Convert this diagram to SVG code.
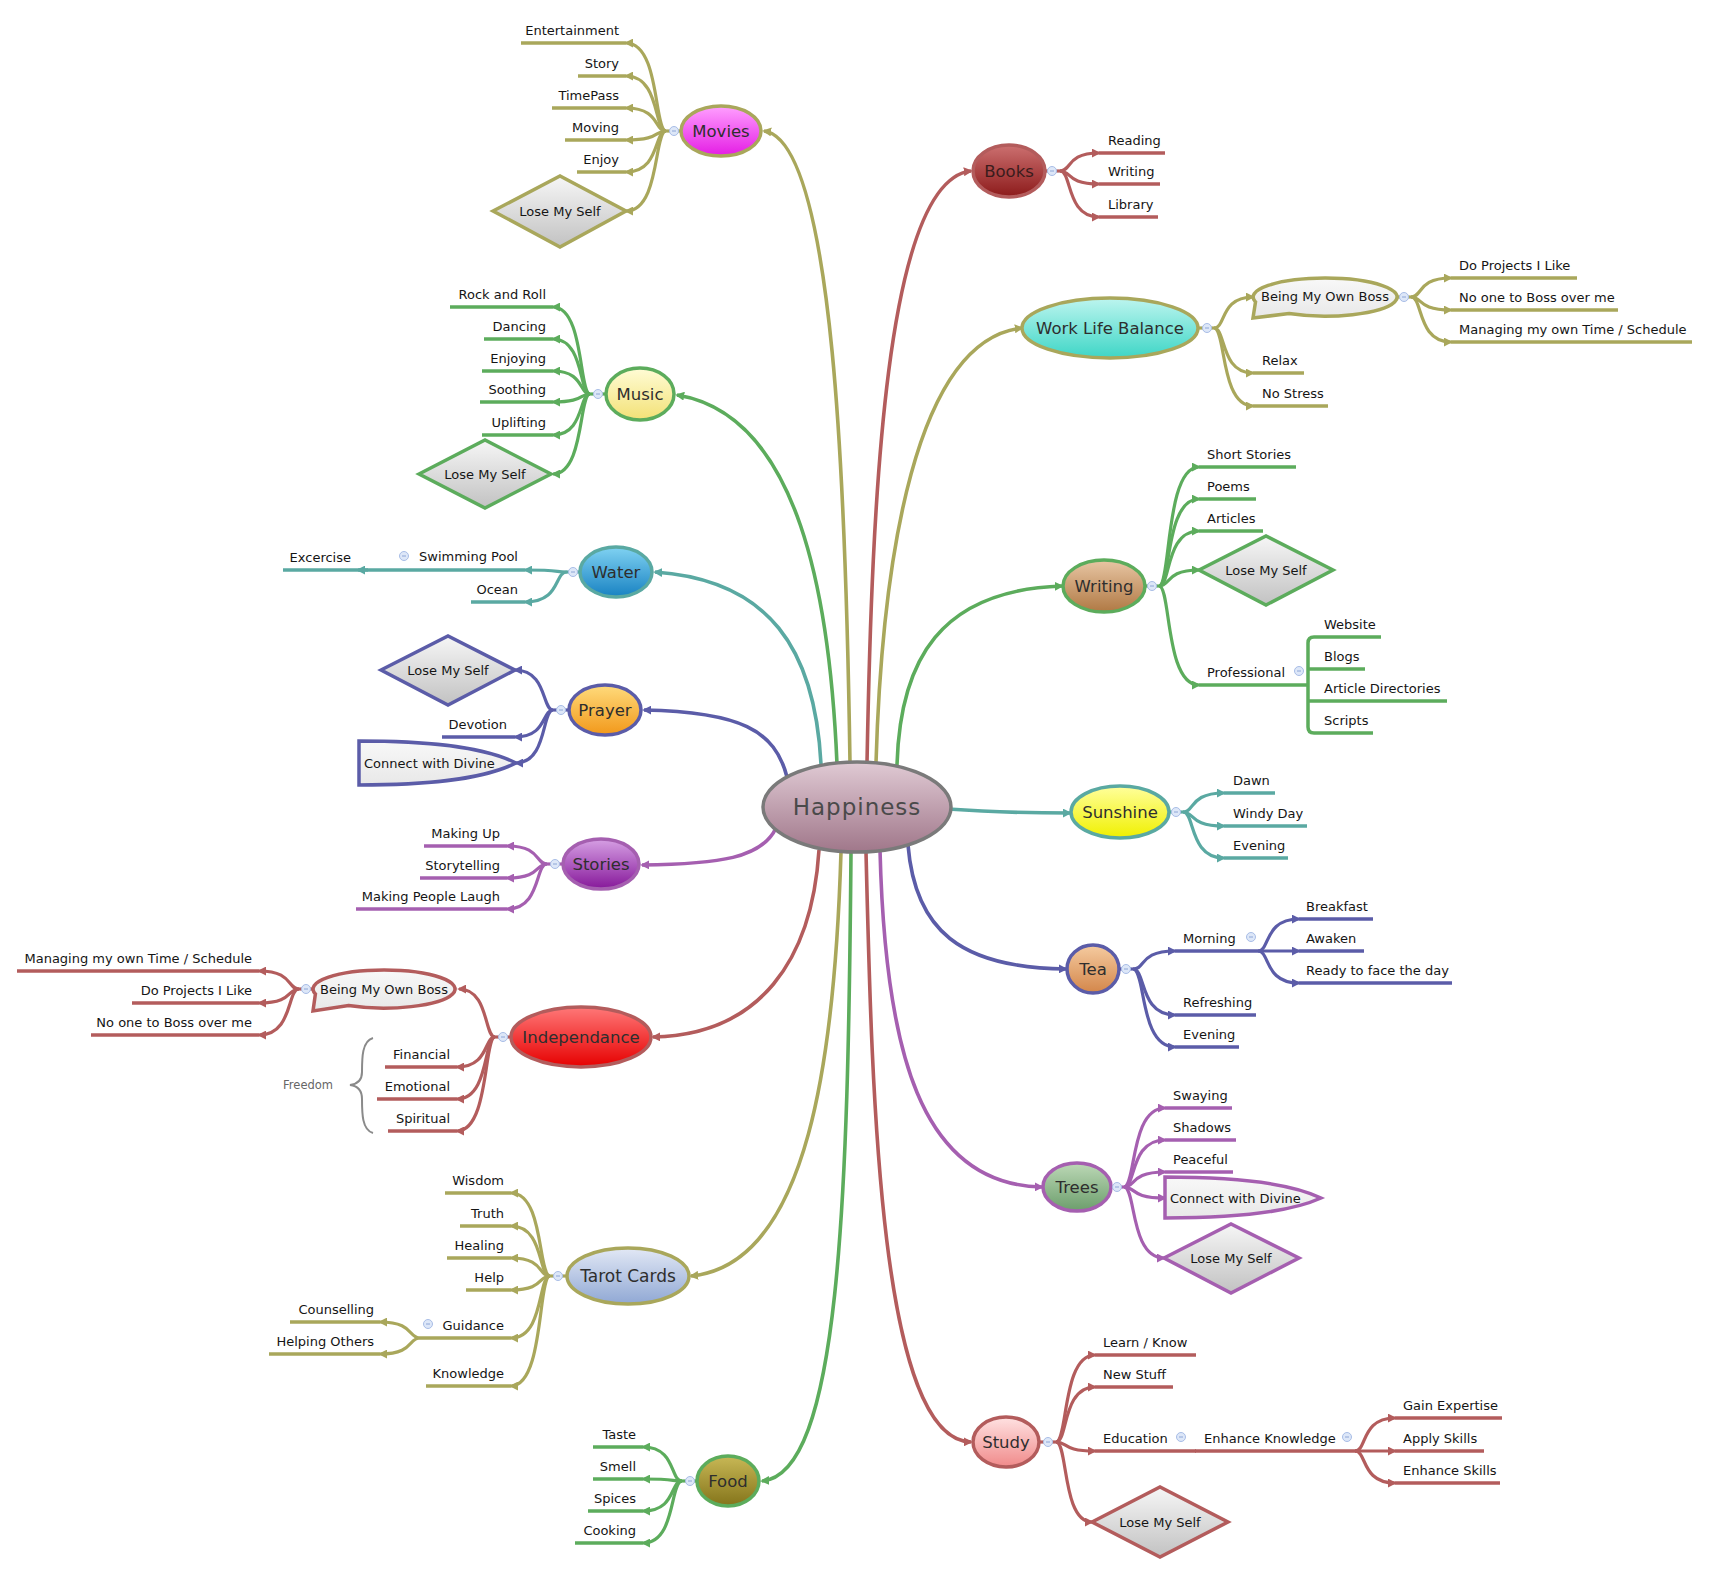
<svg xmlns="http://www.w3.org/2000/svg" xmlns:xlink="http://www.w3.org/1999/xlink" width="1711" height="1574" viewBox="0 0 1711 1574">
<style>
.m{fill:none;stroke-width:3.6}
.c{fill:none;stroke-width:3.2}
.u{fill:none;stroke-width:3.5}
.ol{stroke:#a9a75b}.gr{stroke:#5cac5c}.rd{stroke:#b35c5c}.tl{stroke:#5aa9a2}.bl{stroke:#5b5ca8}.pu{stroke:#a55fb0}
.t{font-family:"DejaVu Sans","Liberation Sans",sans-serif;font-size:13px;fill:#151515}
.e{text-anchor:end}
.mid{text-anchor:middle}
.nt{font-family:"DejaVu Sans","Liberation Sans",sans-serif;font-size:16.5px;fill:#2e2e2e;text-anchor:middle}
.nd{stroke-width:3.5}
.dm{fill:url(#gGray);stroke-width:3.5}
.co{fill:url(#gCall);stroke-width:3.5}
</style>
<defs>
<marker id="aol" viewBox="0 0 10 10" refX="8" refY="5" markerWidth="9" markerHeight="9" markerUnits="userSpaceOnUse" orient="auto"><path d="M0,0L10,5L0,10z" fill="#a9a75b"/></marker>
<marker id="agr" viewBox="0 0 10 10" refX="8" refY="5" markerWidth="9" markerHeight="9" markerUnits="userSpaceOnUse" orient="auto"><path d="M0,0L10,5L0,10z" fill="#5cac5c"/></marker>
<marker id="ard" viewBox="0 0 10 10" refX="8" refY="5" markerWidth="9" markerHeight="9" markerUnits="userSpaceOnUse" orient="auto"><path d="M0,0L10,5L0,10z" fill="#b35c5c"/></marker>
<marker id="atl" viewBox="0 0 10 10" refX="8" refY="5" markerWidth="9" markerHeight="9" markerUnits="userSpaceOnUse" orient="auto"><path d="M0,0L10,5L0,10z" fill="#5aa9a2"/></marker>
<marker id="abl" viewBox="0 0 10 10" refX="8" refY="5" markerWidth="9" markerHeight="9" markerUnits="userSpaceOnUse" orient="auto"><path d="M0,0L10,5L0,10z" fill="#5b5ca8"/></marker>
<marker id="apu" viewBox="0 0 10 10" refX="8" refY="5" markerWidth="9" markerHeight="9" markerUnits="userSpaceOnUse" orient="auto"><path d="M0,0L10,5L0,10z" fill="#a55fb0"/></marker>
<linearGradient id="gHap" x1="0" y1="0" x2="0" y2="1"><stop offset="0" stop-color="#e0cad4"/><stop offset="1" stop-color="#a0778a"/></linearGradient>
<linearGradient id="gMov" x1="0" y1="0" x2="0" y2="1"><stop offset="0" stop-color="#ffa0ff"/><stop offset="1" stop-color="#e41ce4"/></linearGradient>
<linearGradient id="gBoo" x1="0" y1="0" x2="0" y2="1"><stop offset="0" stop-color="#cc7070"/><stop offset="1" stop-color="#8c1a1a"/></linearGradient>
<linearGradient id="gWlb" x1="0" y1="0" x2="0" y2="1"><stop offset="0" stop-color="#bdf5ef"/><stop offset="1" stop-color="#3ed6c6"/></linearGradient>
<linearGradient id="gWri" x1="0" y1="0" x2="0" y2="1"><stop offset="0" stop-color="#e8c6a4"/><stop offset="1" stop-color="#b07944"/></linearGradient>
<linearGradient id="gSun" x1="0" y1="0" x2="0" y2="1"><stop offset="0" stop-color="#ffff9c"/><stop offset="1" stop-color="#f0f000"/></linearGradient>
<linearGradient id="gTea" x1="0" y1="0" x2="0" y2="1"><stop offset="0" stop-color="#f5cba0"/><stop offset="1" stop-color="#d3864a"/></linearGradient>
<linearGradient id="gTre" x1="0" y1="0" x2="0" y2="1"><stop offset="0" stop-color="#bcd8b6"/><stop offset="1" stop-color="#6c9e6c"/></linearGradient>
<linearGradient id="gStu" x1="0" y1="0" x2="0" y2="1"><stop offset="0" stop-color="#ffe2e2"/><stop offset="1" stop-color="#f08a8a"/></linearGradient>
<linearGradient id="gFoo" x1="0" y1="0" x2="0" y2="1"><stop offset="0" stop-color="#c8b856"/><stop offset="1" stop-color="#84741a"/></linearGradient>
<linearGradient id="gTar" x1="0" y1="0" x2="0" y2="1"><stop offset="0" stop-color="#e2e8f5"/><stop offset="1" stop-color="#90a8d4"/></linearGradient>
<linearGradient id="gInd" x1="0" y1="0" x2="0" y2="1"><stop offset="0" stop-color="#ff7878"/><stop offset="1" stop-color="#e60000"/></linearGradient>
<linearGradient id="gSto" x1="0" y1="0" x2="0" y2="1"><stop offset="0" stop-color="#d6a0e4"/><stop offset="1" stop-color="#86189a"/></linearGradient>
<linearGradient id="gPra" x1="0" y1="0" x2="0" y2="1"><stop offset="0" stop-color="#ffdb7c"/><stop offset="1" stop-color="#f2981a"/></linearGradient>
<linearGradient id="gWat" x1="0" y1="0" x2="0" y2="1"><stop offset="0" stop-color="#80d2f2"/><stop offset="1" stop-color="#1882c2"/></linearGradient>
<linearGradient id="gMus" x1="0" y1="0" x2="0" y2="1"><stop offset="0" stop-color="#fffcd6"/><stop offset="1" stop-color="#f3e176"/></linearGradient>
<linearGradient id="gGray" x1="0" y1="0" x2="0" y2="1"><stop offset="0" stop-color="#f6f6f6"/><stop offset="1" stop-color="#c2c2c2"/></linearGradient>
<linearGradient id="gCall" x1="0" y1="0" x2="0" y2="1"><stop offset="0" stop-color="#f8f8f8"/><stop offset="1" stop-color="#e8e8e8"/></linearGradient>
<g id="dot"><circle r="4.5" fill="#dde7f8" stroke="#a8bde6" stroke-width="1"/><path d="M-2 0H2" stroke="#8ea6d6" stroke-width="1"/></g>
</defs>
<rect width="1711" height="1574" fill="#ffffff"/>

<g id="connectors">
<!-- main connectors -->
<path class="m ol" d="M850 763C846 500 835 140 764 131" marker-end="url(#aol)"/>
<path class="m rd" d="M867 763C872 500 885 180 971 171" marker-end="url(#ard)"/>
<path class="m ol" d="M876 763C882 560 915 340 1022 328" marker-end="url(#aol)"/>
<path class="m gr" d="M897 765C900 660 940 590 1062 586" marker-end="url(#agr)"/>
<path class="m tl" d="M948 809C990 812 1030 813 1070 813" marker-end="url(#atl)"/>
<path class="m bl" d="M908 845C915 930 960 968 1066 969" marker-end="url(#abl)"/>
<path class="m pu" d="M880 850C885 1050 920 1185 1042 1187" marker-end="url(#apu)"/>
<path class="m rd" d="M866 852C872 1100 880 1440 971 1442" marker-end="url(#ard)"/>
<path class="m gr" d="M851 852C848 1200 840 1475 762 1481" marker-end="url(#agr)"/>
<path class="m ol" d="M841 852C835 1050 810 1265 691 1276" marker-end="url(#aol)"/>
<path class="m rd" d="M819 850C812 960 760 1035 653 1037" marker-end="url(#ard)"/>
<path class="m pu" d="M776 828C762 858 720 864 642 865" marker-end="url(#apu)"/>
<path class="m bl" d="M787 777C775 730 740 712 644 710" marker-end="url(#abl)"/>
<path class="m tl" d="M821 764C815 650 770 580 655 572" marker-end="url(#atl)"/>
<path class="m gr" d="M837 764C830 600 800 415 677 395" marker-end="url(#agr)"/>

<!-- Movies branches -->
<path class="c ol" d="M681 131H666"/>
<path class="c ol" d="M666 131C654 131 660 43 626 43" marker-end="url(#aol)"/>
<path class="c ol" d="M666 131C654 131 660 76 626 76" marker-end="url(#aol)"/>
<path class="c ol" d="M666 131C654 131 660 108 626 108" marker-end="url(#aol)"/>
<path class="c ol" d="M666 131C654 131 660 140 626 140" marker-end="url(#aol)"/>
<path class="c ol" d="M666 131C654 131 660 172 626 172" marker-end="url(#aol)"/>
<path class="c ol" d="M666 131C654 131 660 211 626 211" marker-end="url(#aol)"/>
<!-- Books -->
<path class="c rd" d="M1045 171H1060"/>
<path class="c rd" d="M1060 171C1072 171 1066 153 1099 153" marker-end="url(#ard)"/>
<path class="c rd" d="M1060 171C1072 171 1066 184 1099 184" marker-end="url(#ard)"/>
<path class="c rd" d="M1060 171C1072 171 1066 217 1099 217" marker-end="url(#ard)"/>
<!-- WLB -->
<path class="c ol" d="M1198 328H1214"/>
<path class="c ol" d="M1214 328C1226 328 1220 297 1253 297" marker-end="url(#aol)"/>
<path class="c ol" d="M1214 328C1226 328 1220 373 1253 373" marker-end="url(#aol)"/>
<path class="c ol" d="M1214 328C1226 328 1220 406 1253 406" marker-end="url(#aol)"/>
<path class="c ol" d="M1397 297H1411"/>
<path class="c ol" d="M1411 297C1423 297 1417 278 1451 278" marker-end="url(#aol)"/>
<path class="c ol" d="M1411 297C1423 297 1417 310 1451 310" marker-end="url(#aol)"/>
<path class="c ol" d="M1411 297C1423 297 1417 342 1451 342" marker-end="url(#aol)"/>
<!-- Writing -->
<path class="c gr" d="M1145 586H1159"/>
<path class="c gr" d="M1159 586C1171 586 1165 467 1199 467" marker-end="url(#agr)"/>
<path class="c gr" d="M1159 586C1171 586 1165 499 1199 499" marker-end="url(#agr)"/>
<path class="c gr" d="M1159 586C1171 586 1165 531 1199 531" marker-end="url(#agr)"/>
<path class="c gr" d="M1159 586C1171 586 1165 570 1199 570" marker-end="url(#agr)"/>
<path class="c gr" d="M1159 586C1171 586 1165 685 1199 685" marker-end="url(#agr)"/>
<path class="u gr" d="M1381 637H1314Q1308 637 1308 643V727Q1308 733 1314 733H1373"/>
<path class="u gr" d="M1308 669H1365M1308 701H1447"/>
<!-- Sunshine -->
<path class="c tl" d="M1169 812H1183"/>
<path class="c tl" d="M1183 812C1195 812 1189 793 1224 793" marker-end="url(#atl)"/>
<path class="c tl" d="M1183 812C1195 812 1189 826 1224 826" marker-end="url(#atl)"/>
<path class="c tl" d="M1183 812C1195 812 1189 858 1224 858" marker-end="url(#atl)"/>
<!-- Tea -->
<path class="c bl" d="M1119 969H1133"/>
<path class="c bl" d="M1133 969C1146 969 1139 951 1175 951" marker-end="url(#abl)"/>
<path class="c bl" d="M1133 969C1146 969 1139 1015 1175 1015" marker-end="url(#abl)"/>
<path class="c bl" d="M1133 969C1146 969 1139 1047 1175 1047" marker-end="url(#abl)"/>
<path class="c bl" d="M1258 951C1270 951 1264 919 1299 919" marker-end="url(#abl)"/>
<path class="c bl" d="M1258 951H1299" marker-end="url(#abl)"/>
<path class="c bl" d="M1258 951C1270 951 1264 983 1299 983" marker-end="url(#abl)"/>
<!-- Trees -->
<path class="c pu" d="M1111 1187H1124"/>
<path class="c pu" d="M1124 1187C1136 1187 1130 1108 1165 1108" marker-end="url(#apu)"/>
<path class="c pu" d="M1124 1187C1136 1187 1130 1140 1165 1140" marker-end="url(#apu)"/>
<path class="c pu" d="M1124 1187C1136 1187 1130 1172 1165 1172" marker-end="url(#apu)"/>
<path class="c pu" d="M1124 1187C1136 1187 1130 1198 1165 1198" marker-end="url(#apu)"/>
<path class="c pu" d="M1124 1187C1136 1187 1130 1258 1164 1258" marker-end="url(#apu)"/>
<!-- Study -->
<path class="c rd" d="M1039 1442H1056"/>
<path class="c rd" d="M1056 1442C1068 1442 1062 1355 1095 1355" marker-end="url(#ard)"/>
<path class="c rd" d="M1056 1442C1068 1442 1062 1387 1095 1387" marker-end="url(#ard)"/>
<path class="c rd" d="M1056 1442C1068 1442 1062 1451 1095 1451" marker-end="url(#ard)"/>
<path class="c rd" d="M1056 1442C1068 1442 1062 1522 1092 1522" marker-end="url(#ard)"/>
<path class="c rd" d="M1355 1451C1367 1451 1361 1418 1395 1418" marker-end="url(#ard)"/>
<path class="c rd" d="M1355 1451H1395" marker-end="url(#ard)"/>
<path class="c rd" d="M1355 1451C1367 1451 1361 1483 1395 1483" marker-end="url(#ard)"/>
<!-- Food -->
<path class="c gr" d="M697 1481H682"/>
<path class="c gr" d="M682 1481C670 1481 676 1447 643 1447" marker-end="url(#agr)"/>
<path class="c gr" d="M682 1481C670 1481 676 1479 643 1479" marker-end="url(#agr)"/>
<path class="c gr" d="M682 1481C670 1481 676 1511 643 1511" marker-end="url(#agr)"/>
<path class="c gr" d="M682 1481C670 1481 676 1543 643 1543" marker-end="url(#agr)"/>
<!-- Tarot -->
<path class="c ol" d="M566 1276H550"/>
<path class="c ol" d="M550 1276C538 1276 544 1193 511 1193" marker-end="url(#aol)"/>
<path class="c ol" d="M550 1276C538 1276 544 1226 511 1226" marker-end="url(#aol)"/>
<path class="c ol" d="M550 1276C538 1276 544 1258 511 1258" marker-end="url(#aol)"/>
<path class="c ol" d="M550 1276C538 1276 544 1290 511 1290" marker-end="url(#aol)"/>
<path class="c ol" d="M550 1276C538 1276 544 1338 511 1338" marker-end="url(#aol)"/>
<path class="c ol" d="M550 1276C538 1276 544 1386 511 1386" marker-end="url(#aol)"/>
<path class="c ol" d="M420 1338C408 1338 414 1322 380 1322" marker-end="url(#aol)"/>
<path class="c ol" d="M420 1338C408 1338 414 1354 380 1354" marker-end="url(#aol)"/>
<!-- Independance -->
<path class="c rd" d="M510 1037H495"/>
<path class="c rd" d="M495 1037C484 1037 489 989 459 989" marker-end="url(#ard)"/>
<path class="c rd" d="M495 1037C484 1037 489 1067 457 1067" marker-end="url(#ard)"/>
<path class="c rd" d="M495 1037C484 1037 489 1099 457 1099" marker-end="url(#ard)"/>
<path class="c rd" d="M495 1037C484 1037 489 1131 457 1131" marker-end="url(#ard)"/>
<path class="c rd" d="M313 989H299"/>
<path class="c rd" d="M299 989C287 989 293 971 259 971" marker-end="url(#ard)"/>
<path class="c rd" d="M299 989C287 989 293 1003 259 1003" marker-end="url(#ard)"/>
<path class="c rd" d="M299 989C287 989 293 1035 259 1035" marker-end="url(#ard)"/>
<!-- Stories -->
<path class="c pu" d="M563 864H547"/>
<path class="c pu" d="M547 864C535 864 541 846 507 846" marker-end="url(#apu)"/>
<path class="c pu" d="M547 864C535 864 541 878 507 878" marker-end="url(#apu)"/>
<path class="c pu" d="M547 864C535 864 541 909 507 909" marker-end="url(#apu)"/>
<!-- Prayer -->
<path class="c bl" d="M569 710H553"/>
<path class="c bl" d="M553 710C542 710 547 670 515 670" marker-end="url(#abl)"/>
<path class="c bl" d="M553 710C542 710 547 737 515 737" marker-end="url(#abl)"/>
<path class="c bl" d="M553 710C542 710 547 763 516 763" marker-end="url(#abl)"/>
<!-- Water -->
<path class="c tl" d="M580 572H567"/>
<path class="c tl" d="M567 572C554 572 561 570 525 570" marker-end="url(#atl)"/>
<path class="c tl" d="M567 572C554 572 561 602 525 602" marker-end="url(#atl)"/>
<path class="c tl" d="M368 570H358" marker-end="url(#atl)"/>
<!-- Music -->
<path class="c gr" d="M606 394H590"/>
<path class="c gr" d="M590 394C579 394 584 307 553 307" marker-end="url(#agr)"/>
<path class="c gr" d="M590 394C579 394 584 339 553 339" marker-end="url(#agr)"/>
<path class="c gr" d="M590 394C579 394 584 371 553 371" marker-end="url(#agr)"/>
<path class="c gr" d="M590 394C579 394 584 402 553 402" marker-end="url(#agr)"/>
<path class="c gr" d="M590 394C579 394 584 435 553 435" marker-end="url(#agr)"/>
<path class="c gr" d="M590 394C579 394 584 474 553 474" marker-end="url(#agr)"/>
</g>

<!-- central node -->
<g id="happiness"><ellipse cx="857" cy="807" rx="94" ry="45" fill="url(#gHap)" stroke="#7a7a7a" stroke-width="3.5"/><text x="857" y="815" font-family="DejaVu Sans, sans-serif" font-size="23" letter-spacing="1" fill="#4a4a4a" text-anchor="middle">Happiness</text></g>

<!-- main topic nodes -->
<g id="movies"><ellipse class="nd ol" cx="721" cy="131" rx="40" ry="25" fill="url(#gMov)"/><text class="nt" x="721" y="137">Movies</text></g>
<g id="books"><ellipse class="nd rd" cx="1009" cy="171" rx="36" ry="26" fill="url(#gBoo)"/><text class="nt" x="1009" y="177" fill="#3a1c1c" style="fill:#3a1c1c">Books</text></g>
<g id="worklife"><ellipse class="nd ol" cx="1110" cy="328" rx="88" ry="30" fill="url(#gWlb)"/><text class="nt" x="1110" y="334">Work Life Balance</text></g>
<g id="writing"><ellipse class="nd gr" cx="1104" cy="586" rx="41" ry="26" fill="url(#gWri)"/><text class="nt" x="1104" y="592">Writing</text></g>
<g id="sunshine"><ellipse class="nd tl" cx="1120" cy="812" rx="49" ry="26" fill="url(#gSun)"/><text class="nt" x="1120" y="818">Sunshine</text></g>
<g id="tea"><ellipse class="nd bl" cx="1093" cy="969" rx="26" ry="24" fill="url(#gTea)"/><text class="nt" x="1093" y="975">Tea</text></g>
<g id="trees"><ellipse class="nd pu" cx="1077" cy="1187" rx="34" ry="24" fill="url(#gTre)"/><text class="nt" x="1077" y="1193">Trees</text></g>
<g id="study"><ellipse class="nd rd" cx="1006" cy="1442" rx="33" ry="25" fill="url(#gStu)"/><text class="nt" x="1006" y="1448">Study</text></g>
<g id="food"><ellipse class="nd gr" cx="728" cy="1481" rx="31" ry="25" fill="url(#gFoo)"/><text class="nt" x="728" y="1487">Food</text></g>
<g id="tarot"><ellipse class="nd ol" cx="628" cy="1276" rx="61" ry="28" fill="url(#gTar)"/><text class="nt" x="628" y="1282" style="font-size:17px">Tarot Cards</text></g>
<g id="independance"><ellipse class="nd rd" cx="581" cy="1037" rx="70" ry="30" fill="url(#gInd)"/><text class="nt" x="581" y="1043">Independance</text></g>
<g id="stories"><ellipse class="nd pu" cx="601" cy="864" rx="38" ry="25" fill="url(#gSto)"/><text class="nt" x="601" y="870">Stories</text></g>
<g id="prayer"><ellipse class="nd bl" cx="605" cy="710" rx="36" ry="25" fill="url(#gPra)"/><text class="nt" x="605" y="716">Prayer</text></g>
<g id="water"><ellipse class="nd tl" cx="616" cy="572" rx="36" ry="25" fill="url(#gWat)"/><text class="nt" x="616" y="578">Water</text></g>
<g id="music"><ellipse class="nd gr" cx="640" cy="394" rx="34" ry="26" fill="url(#gMus)"/><text class="nt" x="640" y="400">Music</text></g>

<!-- Movies children -->
<g id="entertainment"><path class="u ol" d="M521 43H626"/><text class="t e" x="619" y="35">Entertainment</text></g>
<g id="story"><path class="u ol" d="M578 76H626"/><text class="t e" x="619" y="68">Story</text></g>
<g id="timepass"><path class="u ol" d="M552 108H626"/><text class="t e" x="619" y="100">TimePass</text></g>
<g id="moving"><path class="u ol" d="M565 140H626"/><text class="t e" x="619" y="132">Moving</text></g>
<g id="enjoy"><path class="u ol" d="M577 172H626"/><text class="t e" x="619" y="164">Enjoy</text></g>
<g id="movies-lose"><polygon class="dm ol" points="493,211 560,176 626,211 560,247"/><text class="t mid" x="560" y="216">Lose My Self</text></g>

<!-- Books children -->
<g id="reading"><path class="u rd" d="M1099 153H1165"/><text class="t" x="1108" y="145">Reading</text></g>
<g id="books-writing"><path class="u rd" d="M1099 184H1160"/><text class="t" x="1108" y="176">Writing</text></g>
<g id="library"><path class="u rd" d="M1099 217H1158"/><text class="t" x="1108" y="209">Library</text></g>

<!-- WLB children -->
<g id="wlb-boss"><path class="co ol" d="M1255.5 301.9L1253 318L1289 313.5A72 19 0 1 0 1255.5 301.9Z"/><text class="t mid" x="1325" y="301">Being My Own Boss</text></g>
<g id="relax"><path class="u ol" d="M1253 373H1304"/><text class="t" x="1262" y="365">Relax</text></g>
<g id="nostress"><path class="u ol" d="M1253 406H1328"/><text class="t" x="1262" y="398">No Stress</text></g>
<g id="wlb-projects"><path class="u ol" d="M1451 278H1577"/><text class="t" x="1459" y="270">Do Projects I Like</text></g>
<g id="wlb-noone"><path class="u ol" d="M1451 310H1618"/><text class="t" x="1459" y="302">No one to Boss over me</text></g>
<g id="wlb-managing"><path class="u ol" d="M1451 342H1692"/><text class="t" x="1459" y="334">Managing my own Time / Schedule</text></g>

<!-- Writing children -->
<g id="shortstories"><path class="u gr" d="M1199 467H1296"/><text class="t" x="1207" y="459">Short Stories</text></g>
<g id="poems"><path class="u gr" d="M1199 499H1256"/><text class="t" x="1207" y="491">Poems</text></g>
<g id="articles"><path class="u gr" d="M1199 531H1263"/><text class="t" x="1207" y="523">Articles</text></g>
<g id="writing-lose"><polygon class="dm gr" points="1199,570 1266,536 1333,570 1266,605"/><text class="t mid" x="1266" y="575">Lose My Self</text></g>
<g id="professional"><path class="u gr" d="M1199 685H1308"/><text class="t" x="1207" y="677">Professional</text></g>
<g id="website"><text class="t" x="1324" y="629">Website</text></g>
<g id="blogs"><text class="t" x="1324" y="661">Blogs</text></g>
<g id="articledirectories"><text class="t" x="1324" y="693">Article Directories</text></g>
<g id="scripts"><text class="t" x="1324" y="725">Scripts</text></g>

<!-- Sunshine children -->
<g id="dawn"><path class="u tl" d="M1224 793H1275"/><text class="t" x="1233" y="785">Dawn</text></g>
<g id="windyday"><path class="u tl" d="M1224 826H1307"/><text class="t" x="1233" y="818">Windy Day</text></g>
<g id="sun-evening"><path class="u tl" d="M1224 858H1288"/><text class="t" x="1233" y="850">Evening</text></g>

<!-- Tea children -->
<g id="morning"><path class="u bl" d="M1175 951H1258"/><text class="t" x="1183" y="943">Morning</text></g>
<g id="refreshing"><path class="u bl" d="M1175 1015H1256"/><text class="t" x="1183" y="1007">Refreshing</text></g>
<g id="tea-evening"><path class="u bl" d="M1175 1047H1239"/><text class="t" x="1183" y="1039">Evening</text></g>
<g id="breakfast"><path class="u bl" d="M1299 919H1373"/><text class="t" x="1306" y="911">Breakfast</text></g>
<g id="awaken"><path class="u bl" d="M1299 951H1364"/><text class="t" x="1306" y="943">Awaken</text></g>
<g id="ready"><path class="u bl" d="M1299 983H1452"/><text class="t" x="1306" y="975">Ready to face the day</text></g>

<!-- Trees children -->
<g id="swaying"><path class="u pu" d="M1165 1108H1232"/><text class="t" x="1173" y="1100">Swaying</text></g>
<g id="shadows"><path class="u pu" d="M1165 1140H1236"/><text class="t" x="1173" y="1132">Shadows</text></g>
<g id="peaceful"><path class="u pu" d="M1165 1172H1233"/><text class="t" x="1173" y="1164">Peaceful</text></g>
<g id="trees-divine"><path class="co pu" d="M1165 1177C1226 1177 1286 1181 1321 1198C1286 1214 1226 1218 1165 1218Z"/><text class="t" x="1170" y="1203">Connect with Divine</text></g>
<g id="trees-lose"><polygon class="dm pu" points="1164,1258 1231,1224 1299,1258 1231,1293"/><text class="t mid" x="1231" y="1263">Lose My Self</text></g>

<!-- Study children -->
<g id="learn"><path class="u rd" d="M1095 1355H1196"/><text class="t" x="1103" y="1347">Learn / Know</text></g>
<g id="newstuff"><path class="u rd" d="M1095 1387H1173"/><text class="t" x="1103" y="1379">New Stuff</text></g>
<g id="education"><path class="u rd" d="M1095 1451H1196"/><text class="t" x="1103" y="1443">Education</text></g>
<g id="enhanceknowledge"><path class="u rd" d="M1195 1451H1356"/><text class="t" x="1204" y="1443">Enhance Knowledge</text></g>
<g id="gainexpertise"><path class="u rd" d="M1395 1418H1502"/><text class="t" x="1403" y="1410">Gain Expertise</text></g>
<g id="applyskills"><path class="u rd" d="M1395 1451H1484"/><text class="t" x="1403" y="1443">Apply Skills</text></g>
<g id="enhanceskills"><path class="u rd" d="M1395 1483H1500"/><text class="t" x="1403" y="1475">Enhance Skills</text></g>
<g id="study-lose"><polygon class="dm rd" points="1092,1522 1160,1487 1228,1522 1160,1557"/><text class="t mid" x="1160" y="1527">Lose My Self</text></g>

<!-- Food children -->
<g id="taste"><path class="u gr" d="M593 1447H643"/><text class="t e" x="636" y="1439">Taste</text></g>
<g id="smell"><path class="u gr" d="M593 1479H643"/><text class="t e" x="636" y="1471">Smell</text></g>
<g id="spices"><path class="u gr" d="M588 1511H643"/><text class="t e" x="636" y="1503">Spices</text></g>
<g id="cooking"><path class="u gr" d="M575 1543H643"/><text class="t e" x="636" y="1535">Cooking</text></g>

<!-- Tarot children -->
<g id="wisdom"><path class="u ol" d="M445 1193H511"/><text class="t e" x="504" y="1185">Wisdom</text></g>
<g id="truth"><path class="u ol" d="M460 1226H511"/><text class="t e" x="504" y="1218">Truth</text></g>
<g id="healing"><path class="u ol" d="M447 1258H511"/><text class="t e" x="504" y="1250">Healing</text></g>
<g id="help"><path class="u ol" d="M466 1290H511"/><text class="t e" x="504" y="1282">Help</text></g>
<g id="guidance"><path class="u ol" d="M420 1338H511"/><text class="t e" x="504" y="1330">Guidance</text></g>
<g id="knowledge"><path class="u ol" d="M426 1386H511"/><text class="t e" x="504" y="1378">Knowledge</text></g>
<g id="counselling"><path class="u ol" d="M290 1322H380"/><text class="t e" x="374" y="1314">Counselling</text></g>
<g id="helpingothers"><path class="u ol" d="M269 1354H380"/><text class="t e" x="374" y="1346">Helping Others</text></g>

<!-- Independance children -->
<g id="ind-boss"><path class="co rd" d="M315.4 993.9L313 1011L348.5 1005.5A71 19 0 1 0 315.4 993.9Z"/><text class="t mid" x="384" y="994">Being My Own Boss</text></g>
<g id="ind-managing"><path class="u rd" d="M17 971H259"/><text class="t e" x="252" y="963">Managing my own Time / Schedule</text></g>
<g id="ind-projects"><path class="u rd" d="M132 1003H259"/><text class="t e" x="252" y="995">Do Projects I Like</text></g>
<g id="ind-noone"><path class="u rd" d="M91 1035H259"/><text class="t e" x="252" y="1027">No one to Boss over me</text></g>
<g id="financial"><path class="u rd" d="M385 1067H457"/><text class="t e" x="450" y="1059">Financial</text></g>
<g id="emotional"><path class="u rd" d="M377 1099H457"/><text class="t e" x="450" y="1091">Emotional</text></g>
<g id="spiritual"><path class="u rd" d="M388 1131H457"/><text class="t e" x="450" y="1123">Spiritual</text></g>
<g id="freedom"><path d="M373 1038C362 1041 362 1058 362 1072C362 1080 358 1084 350 1085C358 1086 362 1091 362 1099C362 1113 362 1130 373 1133" fill="none" stroke="#8a8a8a" stroke-width="2"/><text x="333" y="1089" font-family="DejaVu Sans, sans-serif" font-size="11.5" fill="#666" text-anchor="end">Freedom</text></g>

<!-- Stories children -->
<g id="makingup"><path class="u pu" d="M424 846H507"/><text class="t e" x="500" y="838">Making Up</text></g>
<g id="storytelling"><path class="u pu" d="M420 878H507"/><text class="t e" x="500" y="870">Storytelling</text></g>
<g id="makingpeoplelaugh"><path class="u pu" d="M356 909H507"/><text class="t e" x="500" y="901">Making People Laugh</text></g>

<!-- Prayer children -->
<g id="prayer-lose"><polygon class="dm bl" points="381,670 448,636 515,670 448,705"/><text class="t mid" x="448" y="675">Lose My Self</text></g>
<g id="devotion"><path class="u bl" d="M442 737H515"/><text class="t e" x="507" y="729">Devotion</text></g>
<g id="prayer-divine"><path class="co bl" d="M359 741C420 741 480 745 516 763C480 781 420 785 359 785Z"/><text class="t" x="364" y="768">Connect with Divine</text></g>

<!-- Water children -->
<g id="swimmingpool"><path class="u tl" d="M358 570H525"/><text class="t e" x="518" y="561">Swimming Pool</text></g>
<g id="excercise"><path class="u tl" d="M283 570H358"/><text class="t e" x="351" y="562">Excercise</text></g>
<g id="ocean"><path class="u tl" d="M471 602H525"/><text class="t e" x="518" y="594">Ocean</text></g>

<!-- Music children -->
<g id="rockandroll"><path class="u gr" d="M450 307H553"/><text class="t e" x="546" y="299">Rock and Roll</text></g>
<g id="dancing"><path class="u gr" d="M484 339H553"/><text class="t e" x="546" y="331">Dancing</text></g>
<g id="enjoying"><path class="u gr" d="M482 371H553"/><text class="t e" x="546" y="363">Enjoying</text></g>
<g id="soothing"><path class="u gr" d="M480 402H553"/><text class="t e" x="546" y="394">Soothing</text></g>
<g id="uplifting"><path class="u gr" d="M482 435H553"/><text class="t e" x="546" y="427">Uplifting</text></g>
<g id="music-lose"><polygon class="dm gr" points="419,474 485,440 551,474 485,508"/><text class="t mid" x="485" y="479">Lose My Self</text></g>

<!-- collapse indicators -->
<g id="collapse-dots">
<use href="#dot" x="674" y="131"/><use href="#dot" x="1052" y="171"/><use href="#dot" x="1207" y="328"/><use href="#dot" x="1404" y="297"/>
<use href="#dot" x="1152" y="586"/><use href="#dot" x="1299" y="671"/><use href="#dot" x="1176" y="812"/><use href="#dot" x="1126" y="969"/>
<use href="#dot" x="1251" y="937"/><use href="#dot" x="1117" y="1187"/><use href="#dot" x="1048" y="1442"/><use href="#dot" x="1181" y="1437"/>
<use href="#dot" x="1347" y="1437"/><use href="#dot" x="690" y="1481"/><use href="#dot" x="558" y="1276"/><use href="#dot" x="428" y="1324"/>
<use href="#dot" x="503" y="1037"/><use href="#dot" x="306" y="989"/><use href="#dot" x="555" y="864"/><use href="#dot" x="561" y="710"/>
<use href="#dot" x="573" y="572"/><use href="#dot" x="404" y="556"/><use href="#dot" x="598" y="394"/>
</g>
</svg>
